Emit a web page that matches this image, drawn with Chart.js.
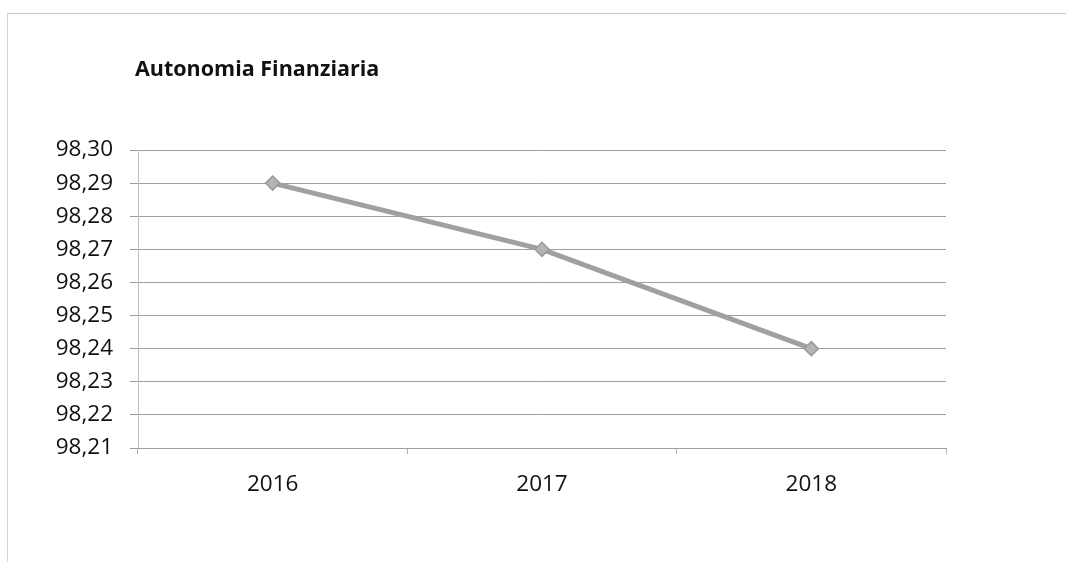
<!DOCTYPE html>
<html>
<head>
<meta charset="utf-8">
<script src="https://cdn.jsdelivr.net/npm/chart.js@4"></script>
<style>
  html, body { margin: 0; padding: 0; background: #fff; }
  #wrap { position: relative; width: 1066px; height: 562px; overflow: hidden; }
  #frame { position: absolute; left: 7px; top: 13px; width: 1059px; height: 560px;
           border-top: 1px solid #c4c4c4; border-left: 1px solid #d6d6d6; }
  #title { position: absolute; left: 135px; top: 53px; font-family: "Open Sans", sans-serif;
           font-weight: bold; font-size: 21.5px; color: #111; white-space: nowrap; }
  canvas { position: absolute; left: 0; top: 0; }
</style>
</head>
<body>
<div id="wrap">
  <div id="frame"></div>
  <canvas id="c" width="1066" height="562"></canvas>
  <div id="title">Autonomia Finanziaria</div>
</div>
<script>
// Financial autonomy index by year
const years = ['2016', '2017', '2018'];
const autonomia = [98.29, 98.27, 98.24];
const yMin = 98.21;
const yMax = 98.30;
const yStep = 0.01;

const labelFont = { family: '"Open Sans", sans-serif', size: 22.5 };

new Chart(document.getElementById('c'), {
  type: 'line',
  data: {
    labels: years,
    datasets: [{
      label: 'Autonomia Finanziaria',
      data: autonomia,
      borderColor: '#a0a0a0',
      backgroundColor: '#b4b4b4',
      borderWidth: 5,
      pointStyle: 'rectRot',
      pointRadius: 7,
      pointBorderWidth: 1.5,
      pointBorderColor: '#999',
      tension: 0
    }]
  },
  options: {
    responsive: false,
    animation: false,
    layout: { padding: { top: 150, right: 120, bottom: 0, left: 0 } },
    plugins: { legend: { display: false }, tooltip: { enabled: false }, title: { display: false } },
    scales: {
      y: {
        min: yMin,
        max: yMax,
        afterFit: s => { s.width = 138; },
        ticks: {
          stepSize: yStep,
          color: '#111',
          font: labelFont,
          padding: 17,
          callback: v => v.toFixed(2).replace('.', ',')
        },
        grid: { color: '#9e9e9e', lineWidth: 1, tickLength: 8 },
        border: { display: true, color: '#bdbdbd' }
      },
      x: {
        offset: true,
        afterFit: s => { s.height = 114; },
        ticks: { color: '#111', font: labelFont, padding: 17 },
        grid: { offset: true, drawOnChartArea: false, drawTicks: true, tickLength: 6, color: '#b0b0b0' },
        border: { display: true, color: '#9e9e9e' }
      }
    }
  }
});
</script>
</body>
</html>
